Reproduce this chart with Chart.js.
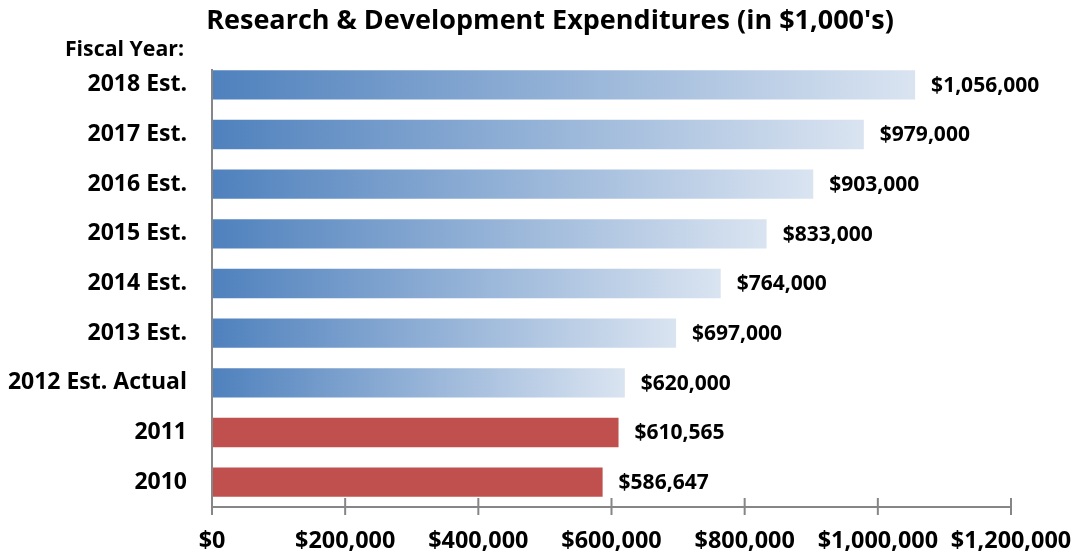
<!DOCTYPE html>
<html>
<head>
<meta charset="utf-8">
<script src="https://cdn.jsdelivr.net/npm/chart.js@4"></script>
<style>
  html, body { margin: 0; padding: 0; background: #fff; }
  #wrap { width: 1084px; height: 558px; position: relative; }
</style>
</head>
<body>
<div id="wrap"><canvas id="rd-chart"></canvas></div>
<script>
// R&D spending by fiscal year (in $1,000's)
var years = ['2018 Est.', '2017 Est.', '2016 Est.', '2015 Est.', '2014 Est.',
             '2013 Est.', '2012 Est. Actual', '2011', '2010'];
var spending = [1056000, 979000, 903000, 833000, 764000, 697000, 620000, 610565, 586647];
var isActual = [false, false, false, false, false, false, false, true, true];
var xTicks = [0, 200000, 400000, 600000, 800000, 1000000, 1200000];

var FONT = '"Open Sans", Lato, sans-serif';

function money(v) {
    return '$' + Number(v).toLocaleString('en-US');
}

function barFill(ctx) {
    var chart = ctx.chart;
    var i = ctx.dataIndex;
    if (isActual[i]) {
        return '#c0504d';
    }
    var xs = chart.scales.x;
    if (!chart.chartArea || !xs) {
        return '#4f81bd';
    }
    var x0 = xs.getPixelForValue(0);
    var x1 = xs.getPixelForValue(spending[i]);
    var g = chart.ctx.createLinearGradient(x0, 0, x1, 0);
    g.addColorStop(0, '#4f81bd');
    g.addColorStop(1, '#dae4f1');
    return g;
}

var extras = {
    id: 'extras',
    afterDraw: function (chart) {
        var c = chart.ctx;
        var xs = chart.scales.x;
        var ys = chart.scales.y;
        var area = chart.chartArea;
        c.save();

        // title + "Fiscal Year:" caption
        c.fillStyle = '#000';
        c.font = 'bold 27px ' + FONT;
        c.textAlign = 'center';
        c.textBaseline = 'middle';
        c.fillText("Research & Development Expenditures (in $1,000's)", 550, 21);
        c.font = 'bold 21.3px ' + FONT;
        c.textAlign = 'right';
        c.fillText('Fiscal Year:', 184, 50);

        // axes
        c.strokeStyle = '#868686';
        c.lineWidth = 2;
        c.beginPath();
        c.moveTo(area.left, area.top + 9);
        c.lineTo(area.left, area.bottom);
        c.moveTo(area.left, area.bottom);
        c.lineTo(area.right, area.bottom);
        xTicks.forEach(function (t) {
            var px = xs.getPixelForValue(t);
            c.moveTo(px, area.bottom - 9);
            c.lineTo(px, area.bottom + 8);
        });
        c.stroke();

        // value labels
        c.fillStyle = '#000';
        c.font = 'bold 21px ' + FONT;
        c.textAlign = 'left';
        c.textBaseline = 'middle';
        spending.forEach(function (v, i) {
            c.fillText(money(v), xs.getPixelForValue(v) + 16, ys.getPixelForValue(i) + 1);
        });
        c.restore();
    }
};

new Chart(document.getElementById('rd-chart').getContext('2d'), {
    type: 'bar',
    data: {
        labels: years,
        datasets: [{
            data: spending,
            backgroundColor: barFill,
            borderWidth: 0,
            categoryPercentage: 1,
            barPercentage: 0.59
        }]
    },
    options: {
        indexAxis: 'y',
        responsive: true,
        maintainAspectRatio: false,
        animation: false,
        layout: { padding: { left: 0, right: 73, top: 60, bottom: 0 } },
        plugins: {
            legend: { display: false },
            title: { display: false },
            tooltip: { enabled: false }
        },
        scales: {
            x: {
                min: 0,
                max: 1200000,
                afterBuildTicks: function (scale) {
                    scale.ticks = xTicks.map(function (v) { return { value: v }; });
                },
                afterFit: function (scale) { scale.height = 51; },
                grid: { display: false },
                border: { display: false },
                ticks: {
                    padding: 12,
                    maxRotation: 0,
                    color: '#000',
                    font: { family: FONT, size: 23.4, weight: 'bold' },
                    callback: function (v) { return money(v); }
                }
            },
            y: {
                afterFit: function (scale) { scale.width = 212; },
                grid: { display: false },
                border: { display: false },
                ticks: {
                    padding: 17,
                    color: '#000',
                    font: { family: FONT, size: 23, weight: 'bold' }
                }
            }
        }
    },
    plugins: [extras]
});
</script>
</body>
</html>
